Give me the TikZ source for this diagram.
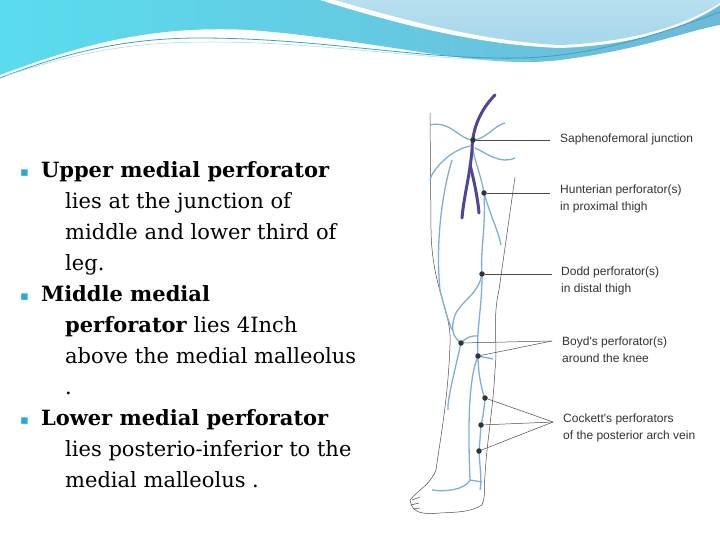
\documentclass[tikz,border=0pt]{standalone}
\usepackage{fontspec}
\setmainfont{DejaVu Serif}
\newfontfamily\lbl{Liberation Sans}
\newfontfamily\dv{DejaVu Sans}
\definecolor{hdA}{RGB}{110,185,215}
\definecolor{hdB}{RGB}{90,220,238}
\definecolor{hdC}{RGB}{165,215,235}
\definecolor{hdL}{RGB}{60,160,200}
\definecolor{vb}{RGB}{125,175,220}
\definecolor{fv}{RGB}{80,70,150}
\definecolor{bul}{RGB}{40,170,210}
\begin{document}
\begin{tikzpicture}[x=1pt,y=-1pt,
  vein/.style={draw=vb,line width=1.3pt},
  outl/.style={draw=black!70,line width=0.5pt},
  dot/.style={circle,fill=black!80,inner sep=0pt,minimum size=5.5pt},
  ptr/.style={draw=black!70,line width=0.5pt},
  lab/.style={anchor=west,align=left,font=\lbl\fontsize{12}{17}\selectfont,text=black!80,inner sep=0pt},
  body/.style={anchor=north west,align=left,font=\fontsize{21}{31}\selectfont,inner sep=0pt}]
\useasboundingbox (0,0) rectangle (720,540);
\fill[white] (0,0) rectangle (720,540);
% header
\shade[left color=hdB,right color=hdA] (0,0) -- (0,75) .. controls (80,45) and (150,25) .. (250,30) .. controls (380,40) and (480,70) .. (560,60) .. controls (640,50) and (690,30) .. (720,25) -- (720,0) -- cycle;
\fill[white] (320,0) .. controls (400,25) and (480,45) .. (560,48) .. controls (640,45) and (690,25) .. (720,5) -- (720,0) -- cycle;
\shade[top color=hdC!80!white,bottom color=hdC] (335,0) .. controls (410,22) and (490,42) .. (560,45) .. controls (640,42) and (690,22) .. (720,3) -- (720,0) -- cycle;
\draw[hdL,line width=0.8pt] (0,78) .. controls (60,55) and (120,38) .. (200,38) .. controls (320,38) and (420,60) .. (520,58) .. controls (600,56) and (670,30) .. (720,12);
\draw[hdA!60,line width=0.5pt] (5,76) .. controls (80,52) and (130,42) .. (210,42) .. controls (330,42) and (430,62) .. (530,60);
% body text
\node[body] (t1) at (20,161) {{\dv\fontsize{13}{13}\selectfont\color{bul}\raisebox{1pt}{▪}}\hspace{12pt}\textbf{Upper medial perforator}\\
\hspace*{45pt}lies at the junction of\\
\hspace*{45pt}middle and lower third of\\
\hspace*{45pt}leg.\\
{\dv\fontsize{13}{13}\selectfont\color{bul}\raisebox{1pt}{▪}}\hspace{12pt}\textbf{Middle medial}\\
\hspace*{45pt}\textbf{perforator} lies 4Inch\\
\hspace*{45pt}above the medial malleolus\\
\hspace*{45pt}.\\
{\dv\fontsize{13}{13}\selectfont\color{bul}\raisebox{1pt}{▪}}\hspace{12pt}\textbf{Lower medial perforator}\\
\hspace*{45pt}lies posterio-inferior to the\\
\hspace*{45pt}medial malleolus .};
% leg outline
\draw[outl] (430,113) -- (431,230) .. controls (432,290) and (452,310) .. (450,345) .. controls (448,400) and (440,440) .. (436,470) .. controls (430,485) and (418,490) .. (410,500) .. controls (412,512) and (420,515) .. (440,513) .. controls (460,512) and (470,512) .. (482,505) .. controls (486,495) and (484,485) .. (485,475);
\draw[outl] (515,177) -- (499,290) .. controls (492,320) and (498,345) .. (495,370) .. controls (493,410) and (487,440) .. (485,475);
\draw[outl] (412,500) -- (420,497) (411,505) -- (419,503) (413,509) -- (420,508);
% veins
\draw[vein] (430,125) .. controls (450,120) and (460,140) .. (473,140) .. controls (485,140) and (495,125) .. (505,123);
\draw[vein] (473,140) .. controls (470,150) and (480,170) .. (484,193) .. controls (486,230) and (480,250) .. (482,274) .. controls (482,310) and (476,330) .. (478,356) .. controls (478,380) and (485,400) .. (485,398) .. controls (483,420) and (481,425) .. (481,425) .. controls (480,440) and (479,451) .. (479,451) .. controls (480,470) and (482,480) .. (480,490);
\draw[vein] (470,146) .. controls (450,150) and (432,170) .. (430,180);
\draw[vein] (475,148) .. controls (485,152) and (500,165) .. (515,158);
\draw[vein] (452,160) .. controls (440,200) and (436,250) .. (440,290) .. controls (445,310) and (448,320) .. (452,330);
\draw[vein] (482,274) .. controls (478,295) and (462,300) .. (455,315) .. controls (452,325) and (450,335) .. (461,343) .. controls (455,370) and (447,400) .. (448,410);
\draw[vein] (461,343) .. controls (465,338) and (472,335) .. (478,336);
\draw[vein] (478,356) .. controls (468,380) and (468,430) .. (470,480) .. controls (465,490) and (445,492) .. (432,490);
\draw[vein] (484,193) .. controls (492,220) and (498,230) .. (501,245);
\draw[vein] (478,356) -- (493,359);
\draw[vein] (470,480) -- (482,482);
% femoral vein
\draw[draw=fv,line width=3pt,line cap=round] (495,95) .. controls (480,110) and (472,130) .. (472,150) .. controls (470,175) and (464,195) .. (462,218);
\draw[draw=fv,line width=3pt,line cap=round] (470,165) .. controls (474,180) and (478,200) .. (479,213);
% dots
\node[dot] (sfj) at (473,140) {};
\node[dot] (hun) at (484,193) {};
\node[dot] (dod) at (482,274) {};
\node[dot] (b1) at (461,343) {};
\node[dot] (b2) at (478,356) {};
\node[dot] (c1) at (485,398) {};
\node[dot] (c2) at (481,425) {};
\node[dot] (c3) at (479,451) {};
% labels
\node[lab] (lsfj) at (560,139) {Saphenofemoral junction};
\node[lab] (lhun) at (560,199) {Hunterian perforator(s)\\in proximal thigh};
\node[lab] (ldod) at (561,281) {Dodd perforator(s)\\in distal thigh};
\node[lab] (lboy) at (562,350) {Boyd's perforator(s)\\around the knee};
\node[lab] (lcoc) at (563,428) {Cockett's perforators\\of the posterior arch vein};
\coordinate (psfj) at (550,140);
\coordinate (phun) at (550,193);
\coordinate (pdod) at (552,274);
\coordinate (pboy) at (552,341);
\coordinate (pcoc) at (553,422);
\draw[ptr] (sfj) -- (psfj);
\draw[ptr] (hun) -- (phun);
\draw[ptr] (dod) -- (pdod);
\draw[ptr] (b1) -- (pboy);
\draw[ptr] (b2) -- (pboy);
\draw[ptr] (c1) -- (pcoc);
\draw[ptr] (c2) -- (pcoc);
\draw[ptr] (c3) -- (pcoc);
\end{tikzpicture}
\end{document}
